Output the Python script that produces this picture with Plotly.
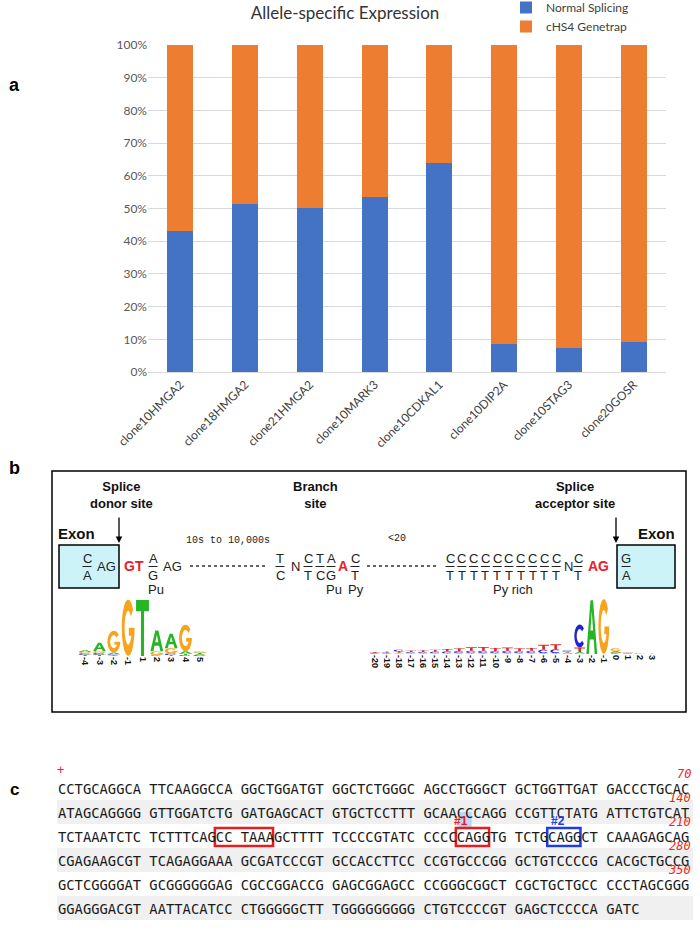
import math
import plotly.graph_objects as go

W, H = 700, 939


def px(x):
    return x / W


def py(y):
    return 1 - y / H


# ---- panel a data ----
clones = ["clone10HMGA2", "clone18HMGA2", "clone21HMGA2", "clone10MARK3",
          "clone10CDKAL1", "clone10DIP2A", "clone10STAG3", "clone20GOSR"]
normal_splicing = [43.0, 51.5, 50.3, 53.5, 63.8, 8.7, 7.3, 9.2]
genetrap = [round(100 - v, 1) for v in normal_splicing]

# ---- panel b logo data (bits) ----
donor_pos = ["-4", "-3", "-2", "-1", "1", "2", "3", "4", "5"]
donor_A = [0.06, 0.30, 0.06, 0.00, 0.00, 0.72, 0.50, 0.08, 0.04]
donor_C = [0.05, 0.06, 0.04, 0.00, 0.00, 0.02, 0.06, 0.03, 0.03]
donor_G = [0.05, 0.06, 0.75, 1.95, 0.00, 0.12, 0.18, 0.92, 0.05]
donor_T = [0.04, 0.04, 0.02, 0.00, 1.93, 0.02, 0.03, 0.05, 0.04]

acc_pos = [str(i) for i in range(-20, 0)] + ["0", "1", "2", "3"]
acc_A = [0.01, 0.01, 0.02, 0.01, 0.01, 0.01, 0.01, 0.01, 0.01, 0.01, 0.01, 0.01,
         0.01, 0.01, 0.01, 0.01, 0.03, 0.05, 1.85, 0.00, 0.06, 0.01, 0.00, 0.00]
acc_C = [0.02, 0.03, 0.06, 0.04, 0.04, 0.05, 0.06, 0.07, 0.08, 0.08, 0.07, 0.08,
         0.07, 0.08, 0.12, 0.13, 0.04, 0.80, 0.00, 0.00, 0.02, 0.01, 0.01, 0.00]
acc_G = [0.01, 0.01, 0.02, 0.02, 0.02, 0.02, 0.02, 0.02, 0.02, 0.02, 0.02, 0.02,
         0.02, 0.02, 0.02, 0.02, 0.02, 0.02, 0.00, 1.90, 0.10, 0.01, 0.01, 0.00]
acc_T = [0.03, 0.04, 0.05, 0.05, 0.06, 0.07, 0.08, 0.10, 0.12, 0.13, 0.11, 0.11,
         0.10, 0.10, 0.17, 0.18, 0.03, 0.15, 0.00, 0.00, 0.02, 0.01, 0.01, 0.01]

# ---- panel c sequence ----
seq_rows = [
    "CCTGCAGGCA TTCAAGGCCA GGCTGGATGT GGCTCTGGGC AGCCTGGGCT GCTGGTTGAT GACCCTGCAC",
    "ATAGCAGGGG GTTGGATCTG GATGAGCACT GTGCTCCTTT GCAACCCAGG CCGTTCTATG ATTCTGTCAT",
    "TCTAAATCTC TCTTTCAGCC TAAAGCTTTT TCCCCGTATC CCCCCAGGTG TCTGCAGGCT CAAAGAGCAG",
    "CGAGAAGCGT TCAGAGGAAA GCGATCCCGT GCCACCTTCC CCGTGCCCGG GCTGTCCCCG CACGCTGCCG",
    "GCTCGGGGAT GCGGGGGGAG CGCCGGACCG GAGCGGAGCC CCGGGCGGCT CGCTGCTGCC CCCTAGCGGG",
    "GGAGGGACGT AATTACATCC CTGGGGGCTT TGGGGGGGGG CTGTCCCCGT GAGCTCCCCA GATC",
]
row_numbers = ["70", "140", "210", "280", "350", ""]

fig = go.Figure()
fig.add_bar(x=clones, y=normal_splicing, name="Normal Splicing",
            marker=dict(color="#4472C4", line_width=0), width=0.4)
fig.add_bar(x=clones, y=genetrap, name="cHS4 Genetrap",
            marker=dict(color="#ED7D31", line_width=0), width=0.4)

shapes = []
annotations = []


def text(x, y, s, size=13, color="#222222", family="Liberation Sans",
         xanchor="center", weight="normal", style="normal", angle=0):
    annotations.append(dict(
        x=px(x), y=py(y), xref="paper", yref="paper", text=s, showarrow=False,
        xanchor=xanchor, yanchor="middle", textangle=angle, borderpad=0,
        font=dict(size=size, color=color, family=family, weight=weight, style=style)))


def rect(x0, y0, x1, y1, line="black", width=1.5, fill=None, below=False):
    shapes.append(dict(type="rect", xref="paper", yref="paper",
                       x0=px(x0), x1=px(x1), y0=py(y1), y1=py(y0),
                       line=dict(color=line, width=width),
                       fillcolor=fill, layer="below" if below else "above"))


def hline(x0, x1, y, color="#222222", width=1, dash="solid"):
    shapes.append(dict(type="line", xref="paper", yref="paper",
                       x0=px(x0), x1=px(x1), y0=py(y), y1=py(y),
                       line=dict(color=color, width=width, dash=dash)))


# panel letters
text(14, 85, "a", size=18, color="black", weight="bold")
text(14, 468, "b", size=18, color="black", weight="bold")
text(14, 789, "c", size=17, color="black", weight="bold")

# ---- panel b diagram ----
rect(52, 471, 686, 712, width=1.5)
bold = dict(weight="bold", size=13, color="#111111")
text(121, 495, "Splice<br>donor site", **bold)
text(315, 495, "Branch<br>site", **bold)
text(575, 495, "Splice<br>acceptor site", **bold)
text(76, 533, "Exon", size=15, color="#111111", weight="bold")
text(656, 533, "Exon", size=15, color="#111111", weight="bold")
rect(59, 545, 119, 588, fill="#ccf4f8")
rect(617, 545, 675, 588, fill="#ccf4f8")
for ax_x in (119, 616):
    annotations.append(dict(x=px(ax_x), y=py(543), xref="paper", yref="paper",
                            ax=0, ay=-27, showarrow=True, arrowhead=2,
                            arrowsize=1, arrowwidth=1.3, arrowcolor="black", text=""))
text(228, 540, "10s to 10,000s", size=10, family="Liberation Mono", color="#222222")
text(397, 538, "&lt;20", size=10, family="Liberation Mono", color="#222222")

# consensus sequence line
pairs = [(87, "C", "A"), (153, "A", "G"), (280, "T", "C"), (308, "C", "T"),
         (320, "T", "C"), (331, "A", "G"), (355, "C", "T"), (578, "C", "T"),
         (626, "G", "A")]
pairs += [(450 + i * 11.8, "C", "T") for i in range(10)]
for x, top, bot in pairs:
    text(x, 558, top)
    text(x, 575, bot)
    hline(x - 4.5, x + 4.5, 566.5, width=1)
for x, s in [(106, "AG"), (172, "AG"), (295, "N"), (568, "N")]:
    text(x, 566, s)
for x, s in [(134, "GT"), (343, "A"), (598, "AG")]:
    text(x, 566, s, size=14, color="#e8202a", weight="bold")
hline(190, 265, 566, color="#333333", width=1.6, dash="dot")
hline(367, 437, 566, color="#333333", width=1.6, dash="dot")
text(156, 589, "Pu")
text(334, 589, "Pu")
text(356, 589, "Py")
text(513, 589, "Py rich")


# ---- sequence logos ----
def arc(rx, ry, a0, a1, n=18):
    return [(0.5 + rx * math.cos(math.radians(a0 + (a1 - a0) * k / n)),
             0.5 + ry * math.sin(math.radians(a0 + (a1 - a0) * k / n)))
            for k in range(n + 1)]


GLYPHS = {
    "T": [[(0, 1), (1, 1), (1, 0.8), (0.62, 0.8), (0.62, 0), (0.38, 0), (0.38, 0.8), (0, 0.8)]],
    "A": [[(0, 0), (0.38, 1), (0.62, 1), (1, 0), (0.77, 0), (0.68, 0.27), (0.32, 0.27), (0.23, 0)],
          [(0.38, 0.44), (0.62, 0.44), (0.5, 0.8)]],
    "C": [arc(0.5, 0.5, 40, 320) + arc(0.28, 0.3, 320, 40)],
    "G": [arc(0.5, 0.5, 40, 360) + [(0.55, 0.5), (0.55, 0.36), (0.77, 0.36)]
          + arc(0.28, 0.3, 332, 40)],
}


def glyph_path(letter, xc, w, y0, h):
    out = ""
    for poly in GLYPHS[letter]:
        pts = [(xc - w / 2 + u * w, y0 + v * h) for u, v in poly]
        out += "M" + "L".join(f"{a:.4f},{b:.4f}" for a, b in pts) + "Z"
    return out


def logo(xref, yref, heights, colors):
    n = len(heights["A"])
    for i in range(n):
        stack = sorted((heights[L][i], L) for L in "ACGT")
        y0 = 0.0
        for h, L in stack:
            if h <= 0.005:
                continue
            shapes.append(dict(type="path", xref=xref, yref=yref,
                               path=glyph_path(L, i, 0.9, y0, h),
                               fillcolor=colors[L], line=dict(width=0), layer="above"))
            y0 += h


logo("x2", "y2", {"A": donor_A, "C": donor_C, "G": donor_G, "T": donor_T},
     {"A": "#27b427", "C": "#2a2ad8", "G": "#f7a41d", "T": "#27b427"})
logo("x3", "y3", {"A": acc_A, "C": acc_C, "G": acc_G, "T": acc_T},
     {"A": "#27b427", "C": "#2323d0", "G": "#f7a41d", "T": "#e02424"})

# ---- panel c sequence ----
fs = 13.8
cw = 0.6021 * fs
x0 = 57
row_y = [789 + 24 * i for i in range(len(seq_rows))]
for i, (s, num) in enumerate(zip(seq_rows, row_numbers)):
    y = row_y[i]
    if i % 2 == 1:
        rect(57, y - 13, 693, y + 11, line="rgba(0,0,0,0)", width=0, fill="#f0f0f0",
             below=True)
    text(x0, y, s, size=fs, family="DejaVu Sans Mono", color="#1a1a1a", xanchor="left")
    if num:
        text(692, y - 15, num, size=12, family="DejaVu Sans Mono", color="#e8281e",
             xanchor="right", style="italic")
text(60, row_y[0] - 19, "+", size=12, family="DejaVu Sans Mono", color="#e8281e")

r3 = row_y[2]
# highlight behind "#1"
rect(x0 + 48.3 * cw, r3 - 25, x0 + 49.9 * cw, r3 - 9, line="rgba(0,0,0,0)", width=0,
     fill="#bcd6f4", below=True)
rect(x0 + 19 * cw, r3 - 9, x0 + 26 * cw, r3 + 9, line="#e81c1c", width=2.5)
rect(x0 + 48 * cw, r3 - 9, x0 + 52 * cw, r3 + 9, line="#e81c1c", width=2.5)
rect(x0 + 59 * cw, r3 - 9, x0 + 63 * cw, r3 + 9, line="#1c3ce8", width=2.5)
text(x0 + 48.6 * cw, r3 - 16, "#1", size=12, color="#e81c1c", weight="bold")
text(x0 + 60.3 * cw, r3 - 16, "#2", size=12, color="#1c3ce8", weight="bold")

noauto = dict(automargin=False)
fig.update_layout(
    width=W, height=H, margin=dict(l=0, r=0, t=0, b=0, autoexpand=False),
    barmode="stack", plot_bgcolor="white", paper_bgcolor="white",
    font=dict(family="Lato", color="#404040"),
    title=dict(text="Allele-specific Expression", x=px(345), xanchor="center",
               y=py(13), yanchor="middle", font=dict(size=17, family="Lato", color="#333333")),
    legend=dict(x=px(506), y=py(-7), xanchor="left", yanchor="top", traceorder="normal",
                itemwidth=30, font=dict(size=12, family="Lato", color="#404040"),
                bgcolor="rgba(0,0,0,0)", tracegroupgap=0),
    xaxis=dict(domain=[px(148), px(666)], anchor="y", tickangle=-45,
               tickfont=dict(size=12, family="Lato", color="#404040"),
               showline=True, linecolor="#d9d9d9", linewidth=1, fixedrange=True, **noauto),
    yaxis=dict(domain=[py(372), py(45)], anchor="x", range=[0, 100], dtick=10,
               ticksuffix="%", gridcolor="#d9d9d9", zeroline=False,
               tickfont=dict(size=12, family="Lato", color="#595959"), **noauto),
    xaxis2=dict(domain=[px(78), px(207)], anchor="y2", range=[-0.5, 8.5],
                tickvals=list(range(9)), ticktext=donor_pos, tickangle=90,
                tickfont=dict(size=9, family="Liberation Sans", color="#111111", weight="bold"),
                showgrid=False, zeroline=False, showline=False, ticks="", **noauto),
    yaxis2=dict(domain=[py(656), py(598)], anchor="x2", range=[0, 2], visible=False, **noauto),
    xaxis3=dict(domain=[px(369), px(658)], anchor="y3", range=[-0.5, 23.5],
                tickvals=list(range(24)), ticktext=acc_pos, tickangle=90,
                tickfont=dict(size=9, family="Liberation Sans", color="#111111", weight="bold"),
                showgrid=False, zeroline=False, showline=False, ticks="", **noauto),
    yaxis3=dict(domain=[py(654), py(596)], anchor="x3", range=[0, 2], visible=False, **noauto),
    shapes=shapes, annotations=annotations,
)

# the page's default 8px body margin would shift the whole figure
fig.write_html("out.html", config={"displayModeBar": False},
               post_script="document.body.style.margin='0';")
